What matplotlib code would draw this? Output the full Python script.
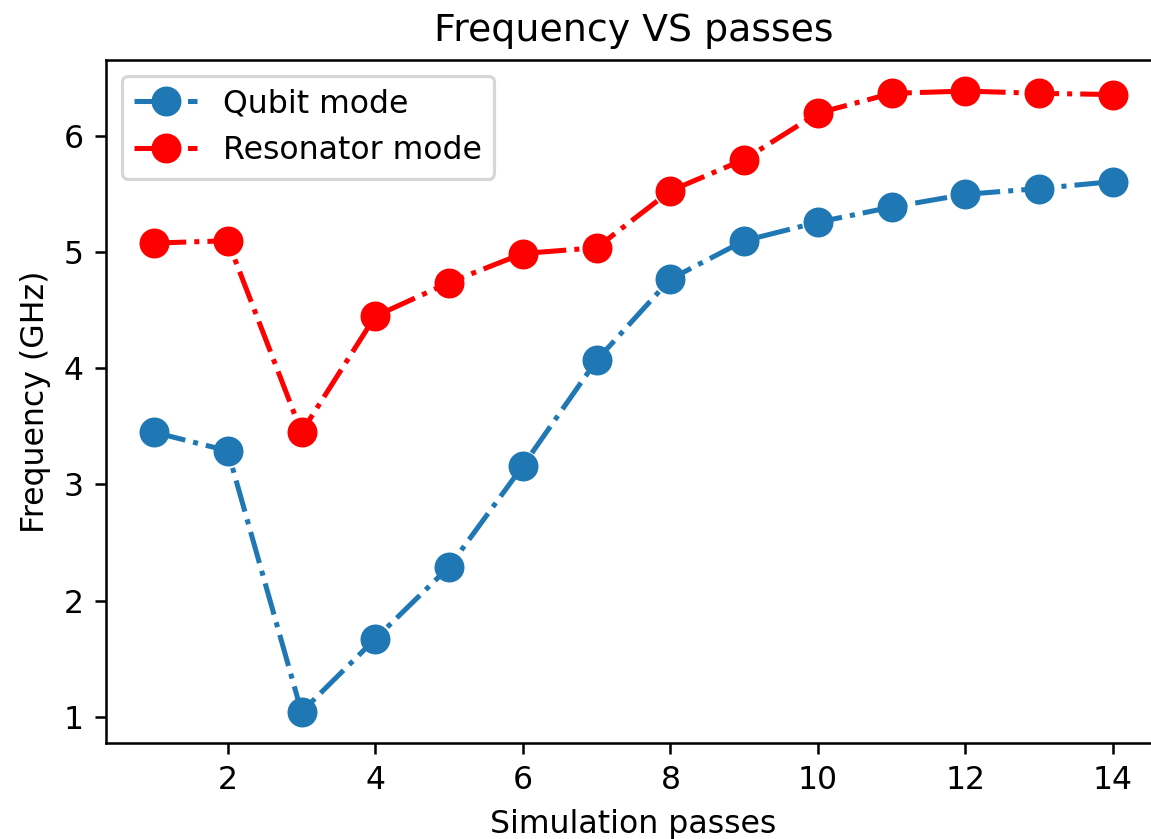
import matplotlib
matplotlib.use("Agg")
import matplotlib.pyplot as plt

passes = list(range(1, 15))
qubit = [3.45, 3.29, 1.04, 1.67, 2.29, 3.16, 4.07, 4.77, 5.10, 5.26, 5.39, 5.50, 5.55, 5.61]
resonator = [5.08, 5.10, 3.45, 4.45, 4.74, 4.99, 5.04, 5.53, 5.80, 6.20, 6.37, 6.39, 6.37, 6.36]

dpi = 227
W, H = 1151, 839
fig = plt.figure(figsize=(W / dpi, H / dpi), dpi=dpi)
ax = fig.add_axes([106 / W, 1 - 743 / H, (1161 - 106) / W, (743 - 60) / H])
ax.plot(passes, qubit, '-.', marker='o', color='#1f77b4', markersize=8.5, linewidth=1.6, label='Qubit mode')
ax.plot(passes, resonator, '-.', marker='o', color='red', markersize=8.5, linewidth=1.6, label='Resonator mode')
ax.set_title('Frequency VS passes')
ax.set_xlabel('Simulation passes')
ax.set_ylabel('Frequency (GHz)')
ax.legend(loc='upper left')
fig.savefig('out.png', dpi=dpi)
